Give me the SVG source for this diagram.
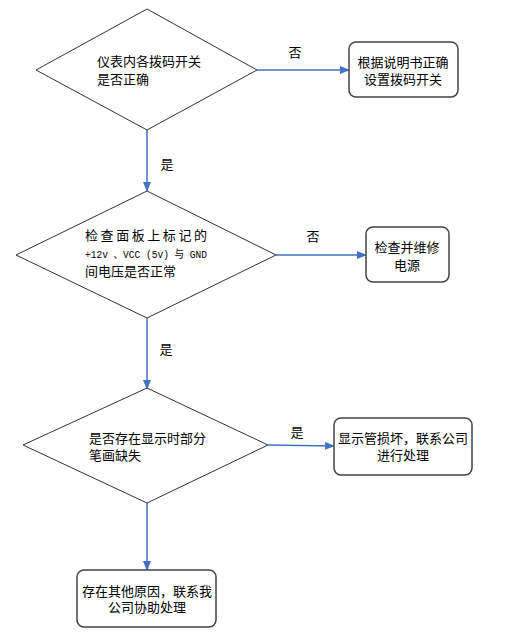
<svg xmlns="http://www.w3.org/2000/svg" width="520" height="642" viewBox="0 0 520 642">
<defs>
<marker id="arr" markerWidth="10" markerHeight="8" refX="9" refY="4" orient="auto" markerUnits="userSpaceOnUse">
<path d="M0,0 L10,4 L0,8 Z" fill="#4472C4"/>
</marker>
<style>
.dia{fill:#fff;stroke:#333;stroke-width:1}
.box{fill:#fff;stroke:#444;stroke-width:1.5}
.t{font-family:"Liberation Sans","Noto Sans CJK SC",sans-serif;font-size:13px;fill:#000}
.c{text-anchor:middle}
.edge{stroke:#4472C4;stroke-width:1.5;fill:none;marker-end:url(#arr)}
.m{font-family:"Liberation Mono","Noto Sans CJK SC",monospace;font-size:11px;fill:#000}
</style>
</defs>
<rect width="520" height="642" fill="#fff"/>
<g id="connectors">
<path class="edge" d="M257,70 L349,70"/>
<path class="edge" d="M147,130 L147,191"/>
<path class="edge" d="M276,255 L366,255"/>
<path class="edge" d="M147,318 L147,389"/>
<path class="edge" d="M268,445 L334,446"/>
<path class="edge" d="M147,503 L147,570"/>
<text class="t" x="295" y="57" text-anchor="middle">否</text>
<text class="t" x="167" y="169" text-anchor="middle">是</text>
<text class="t" x="313" y="241" text-anchor="middle">否</text>
<text class="t" x="166" y="354" text-anchor="middle">是</text>
<text class="t" x="297" y="437" text-anchor="middle">是</text>
</g>
<g id="d1">
<polygon class="dia" points="147,9 257,70 147,130 36,70"/>
<text class="t" x="97" y="66">仪表内各拨码开关</text>
<text class="t" x="97" y="84">是否正确</text>
</g>
<g id="b1">
<rect class="box" x="349" y="42" width="109" height="55" rx="7"/>
<text class="t c" x="403" y="67">根据说明书正确</text>
<text class="t c" x="403" y="84">设置拨码开关</text>
</g>
<g id="d2">
<polygon class="dia" points="147,191 276,255 147,318 16,255"/>
<text class="t" x="85" y="240" textLength="122" lengthAdjust="spacing">检查面板上标记的</text>
<text class="m" x="85" y="258" textLength="122" lengthAdjust="spacingAndGlyphs">+12v 、VCC (5v) 与 GND</text>
<text class="t" x="85" y="276">间电压是否正常</text>
</g>
<g id="b2">
<rect class="box" x="366" y="227" width="83" height="55" rx="7"/>
<text class="t c" x="407" y="252">检查并维修</text>
<text class="t c" x="407" y="270">电源</text>
</g>
<g id="d3">
<polygon class="dia" points="147,388 268,445 147,503 23,445"/>
<text class="t" x="89" y="443">是否存在显示时部分</text>
<text class="t" x="89" y="460">笔画缺失</text>
</g>
<g id="b3">
<rect class="box" x="334" y="418" width="138" height="57" rx="7"/>
<text class="t c" x="403" y="443">显示管损坏，联系公司</text>
<text class="t c" x="403" y="460">进行处理</text>
</g>
<g id="b4">
<rect class="box" x="77" y="570" width="139" height="57" rx="7"/>
<text class="t c" x="147" y="596">存在其他原因，联系我</text>
<text class="t c" x="147" y="612">公司协助处理</text>
</g>
</svg>
